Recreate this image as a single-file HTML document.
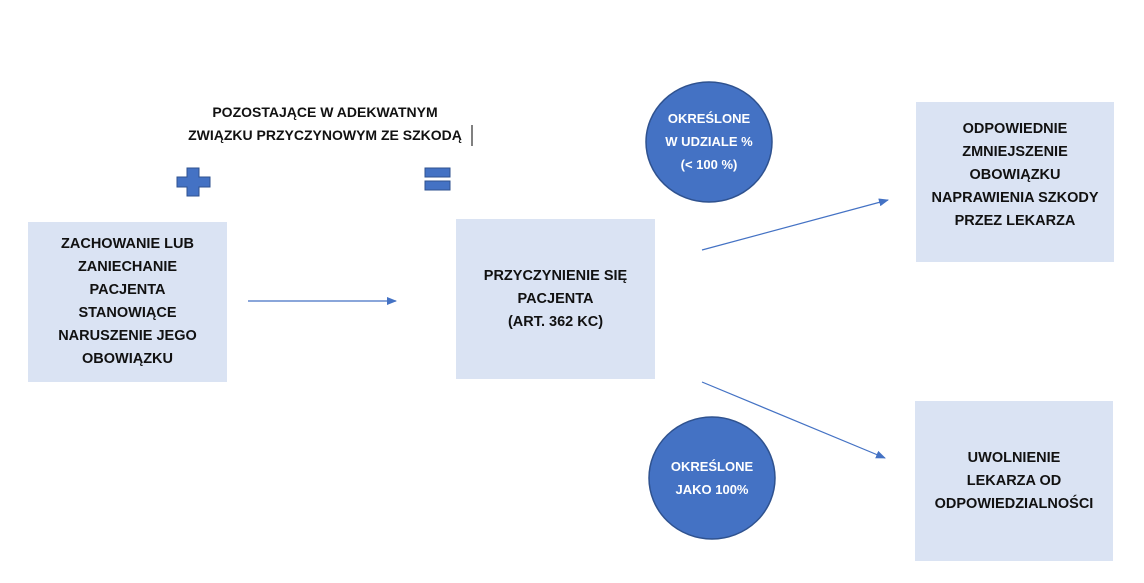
<!DOCTYPE html>
<html><head><meta charset="utf-8"><style>
body{margin:0;width:1144px;height:583px;background:#fff;position:relative;overflow:hidden;font-family:"Liberation Sans",sans-serif;font-weight:bold;font-size:14.5px;color:#111}
.b{position:absolute;background:#dae3f3;display:flex;align-items:center;justify-content:center;text-align:center;line-height:23px}
.t{position:absolute;text-align:center;line-height:23px}
</style></head><body>
<svg width="1144" height="583" style="position:absolute;left:0;top:0">
<defs><marker id="a" markerWidth="10" markerHeight="8" refX="9" refY="4" orient="auto" markerUnits="userSpaceOnUse"><path d="M0,0 L10,4 L0,8z" fill="#4472c4"/></marker></defs>
<ellipse cx="709" cy="142" rx="63" ry="60" fill="#4472c4" stroke="#2f528f" stroke-width="1.5"/>
<ellipse cx="712" cy="478" rx="63" ry="61" fill="#4472c4" stroke="#2f528f" stroke-width="1.5"/>
<line x1="248" y1="301" x2="396" y2="301" stroke="#4472c4" stroke-width="1.2" marker-end="url(#a)"/>
<line x1="702" y1="250" x2="888" y2="200" stroke="#4472c4" stroke-width="1.2" marker-end="url(#a)"/>
<line x1="702" y1="382" x2="885" y2="458" stroke="#4472c4" stroke-width="1.2" marker-end="url(#a)"/>
<path d="M187,168h12v9h11v10h-11v9h-12v-9h-10v-10h10z" fill="#4472c4" stroke="#2f528f"/>
<rect x="425" y="168" width="25" height="9" fill="#4472c4" stroke="#2f528f"/>
<rect x="425" y="181" width="25" height="9" fill="#4472c4" stroke="#2f528f"/>
<line x1="472" y1="125" x2="472" y2="146" stroke="#000"/>
</svg>
<div class="t" style="left:160px;top:101px;width:330px;font-size:14px">POZOSTAJĄCE W ADEKWATNYM<br>ZWIĄZKU PRZYCZYNOWYM ZE SZKODĄ</div>
<div class="b" style="left:28px;top:222px;width:199px;height:160px">ZACHOWANIE LUB<br>ZANIECHANIE<br>PACJENTA<br>STANOWIĄCE<br>NARUSZENIE JEGO<br>OBOWIĄZKU</div>
<div class="b" style="left:456px;top:219px;width:199px;height:160px">PRZYCZYNIENIE SIĘ<br>PACJENTA<br>(ART. 362 KC)</div>
<div class="b" style="left:916px;top:102px;width:198px;height:160px;align-items:flex-start;padding-top:16px;box-sizing:border-box">ODPOWIEDNIE<br>ZMNIEJSZENIE<br>OBOWIĄZKU<br>NAPRAWIENIA SZKODY<br>PRZEZ LEKARZA</div>
<div class="b" style="left:915px;top:401px;width:198px;height:160px">UWOLNIENIE<br>LEKARZA OD<br>ODPOWIEDZIALNOŚCI</div>
<div class="t" style="left:646px;top:107px;width:126px;color:#fff;font-size:13px">OKREŚLONE<br>W UDZIALE %<br>(&lt; 100 %)</div>
<div class="t" style="left:649px;top:455px;width:126px;color:#fff;font-size:13px">OKREŚLONE<br>JAKO 100%</div>
</body></html>
